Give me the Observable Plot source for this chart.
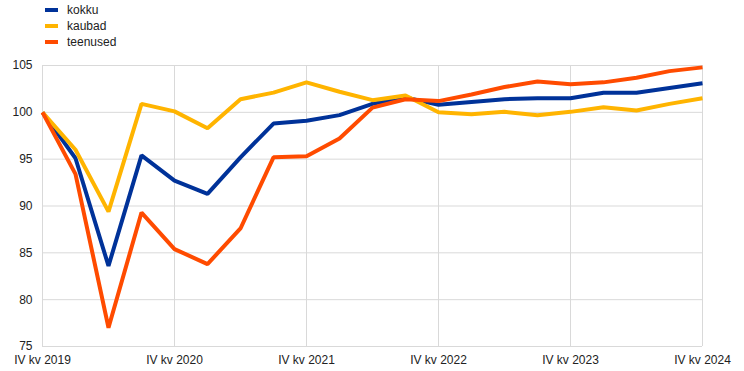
<!DOCTYPE html>
<html>
<head>
<meta charset="utf-8">
<script src="https://cdn.jsdelivr.net/npm/d3@7"></script>
<script src="https://cdn.jsdelivr.net/npm/@observablehq/plot@0.6"></script>
<style>
  body { margin: 0; background: #fff; font-family: "Liberation Sans", Arial, sans-serif; }
  #legend { height: 52px; box-sizing: border-box; padding-top: 2px; }
  .row { height: 16px; display: flex; align-items: center; font-size: 12px; color: #222; }
  .sw { width: 13px; height: 4px; margin-left: 45px; margin-right: 9px; }
  svg { display: block; }
</style>
</head>
<body>
<div id="legend"></div>
<div id="chart"></div>
<script>
const quarters = [
  "IV kv 2019","I kv 2020","II kv 2020","III kv 2020","IV kv 2020",
  "I kv 2021","II kv 2021","III kv 2021","IV kv 2021",
  "I kv 2022","II kv 2022","III kv 2022","IV kv 2022",
  "I kv 2023","II kv 2023","III kv 2023","IV kv 2023",
  "I kv 2024","II kv 2024","III kv 2024","IV kv 2024"
];
const seriesNames = ["kokku", "kaubad", "teenused"];
const seriesColors = ["#003299", "#ffb400", "#ff4b00"];
const kokku =    [100, 95.1, 83.6, 95.4, 92.7, 91.3, 95.2, 98.8, 99.1, 99.7, 100.9, 101.6, 100.8, 101.1, 101.4, 101.5, 101.5, 102.1, 102.1, 102.6, 103.1];
const kaubad =   [100, 96.0, 89.4, 100.9, 100.1, 98.3, 101.4, 102.1, 103.2, 102.2, 101.3, 101.8, 100.0, 99.8, 100.05, 99.7, 100.05, 100.55, 100.2, 100.9, 101.5];
const teenused = [100, 93.4, 77.0, 89.3, 85.4, 83.8, 87.6, 95.2, 95.3, 97.2, 100.5, 101.4, 101.2, 101.9, 102.7, 103.3, 103.0, 103.2, 103.7, 104.4, 104.8];
const yTicks = [75, 80, 85, 90, 95, 100, 105];
const xTicks = quarters.filter(q => q.startsWith("IV"));

const allSeries = [kokku, kaubad, teenused];
const data = [];
allSeries.forEach((vals, s) => vals.forEach((v, i) => data.push({q: quarters[i], v, s: seriesNames[s]})));

const legend = document.getElementById("legend");
seriesNames.forEach((n, i) => {
  const r = document.createElement("div");
  r.className = "row";
  r.innerHTML = `<span class="sw" style="background:${seriesColors[i]}"></span><span>${n}</span>`;
  legend.appendChild(r);
});

const chart = Plot.plot({
  width: 744,
  height: 319,
  marginTop: 13,
  marginBottom: 25,
  marginLeft: 42,
  marginRight: 42,
  style: { fontFamily: "Liberation Sans, Arial, sans-serif", fontSize: "12px", color: "#222" },
  x: { type: "point", domain: quarters, padding: 0, label: null },
  y: { domain: [75, 105], label: null },
  color: { domain: seriesNames, range: seriesColors },
  marks: [
    Plot.gridX(xTicks, { stroke: "#d9d9d9", strokeOpacity: 1, strokeWidth: 1 }),
    Plot.gridY(yTicks, { stroke: "#d9d9d9", strokeOpacity: 1, strokeWidth: 1 }),
    Plot.axisX(xTicks, { tickSize: 0, tickPadding: 9, fontSize: 12 }),
    Plot.axisY(yTicks, { tickSize: 0, tickPadding: 10, fontSize: 12 }),
    Plot.line(data, { x: "q", y: "v", z: "s", stroke: "s", strokeWidth: 4, strokeLinejoin: "miter", strokeLinecap: "butt" })
  ]
});
document.getElementById("chart").appendChild(chart);
</script>
</body>
</html>
